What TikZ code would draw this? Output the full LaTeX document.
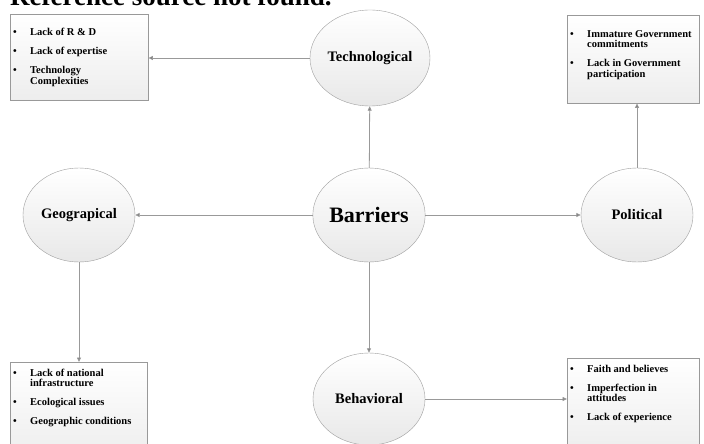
\documentclass[tikz,border=0pt]{standalone}
\usepackage{fontspec}
\setmainfont{Liberation Serif}
\usetikzlibrary{shapes.geometric,arrows.meta,shadows}

\newcommand{\bitem}[1]{\par\hangindent=17pt\hangafter=1\noindent\makebox[17pt][l]{\textbullet}#1\par\vspace{8.5pt}}
\newcommand{\itemlist}[4]{\parbox[t][#1][t]{#2}{\fontsize{10.5pt}{10.5pt}\selectfont\bfseries\raggedright\vspace*{#3}#4}}

\begin{document}
\begin{tikzpicture}[x=1pt, y=-1pt,
    barrier/.style={draw=gray!75, ellipse, minimum width=112pt, minimum height=94pt, inner sep=0pt,
        top color=white, bottom color=gray!18, font=\fontsize{14.5pt}{16pt}\selectfont\bfseries},
    listbox/.style={draw=gray!80, rectangle, anchor=north west, inner xsep=3pt, inner ysep=0pt,
        top color=white, bottom color=gray!14, drop shadow={opacity=0.15, shadow xshift=1.2pt, shadow yshift=-1.2pt}},
    link/.style={draw=gray!80, line width=0.8pt, -{Triangle[length=4.5pt, width=4pt, fill=gray!90!black]}}]
    \clip (0,0) rectangle (704,444);
    \fill[white] (0,0) rectangle (704,444);

    % Define nodes
    \node[anchor=base west, font=\fontsize{27pt}{30pt}\selectfont\bfseries, inner sep=0pt] (title) at (10,6) {Reference source not found.};

    \node[barrier, font=\fontsize{22pt}{24pt}\selectfont\bfseries] (bar) at (369,215) {Barriers};
    \node[barrier, minimum height=96pt] (tech) at (370,58) {Technological};
    \node[barrier] (geo) at (79,215) {Geograpical};
    \node[barrier] (pol) at (637,215) {Political};
    \node[barrier, minimum height=92pt] (beh) at (369,399) {Behavioral};

    \node[listbox] (techbox) at (10,14) {\itemlist{86pt}{132pt}{14pt}{%
        \bitem{Lack of R \& D}
        \bitem{Lack of expertise}
        \bitem{Technology\newline Complexities}}};
    \node[listbox] (polbox) at (567,15) {\itemlist{88pt}{126pt}{15pt}{%
        \bitem{Immature Government\newline commitments}
        \bitem{Lack in Government\newline participation}}};
    \node[listbox] (geobox) at (10,362) {\itemlist{95pt}{131pt}{6.5pt}{%
        \bitem{Lack of national\newline infrastructure}
        \bitem{Ecological issues}
        \bitem{Geographic conditions}}};
    \node[listbox] (behbox) at (567,358) {\itemlist{95pt}{126pt}{7pt}{%
        \bitem{Faith and believes}
        \bitem{Imperfection in\newline attitudes}
        \bitem{Lack of experience}}};

    % Define connections
    \draw[link] (bar) -- (tech);
    \draw[link] (bar) -- (geo);
    \draw[link] (bar) -- (pol);
    \draw[link] (bar) -- (beh);
    \draw[link] (tech.west) -- (tech.west -| techbox.east);
    \draw[link] (geo.south) -- (geo.south |- geobox.north);
    \draw[link] (pol.north) -- (pol.north |- polbox.south);
    \draw[link] (beh.east) -- (beh.east -| behbox.west);
\end{tikzpicture}
\end{document}
